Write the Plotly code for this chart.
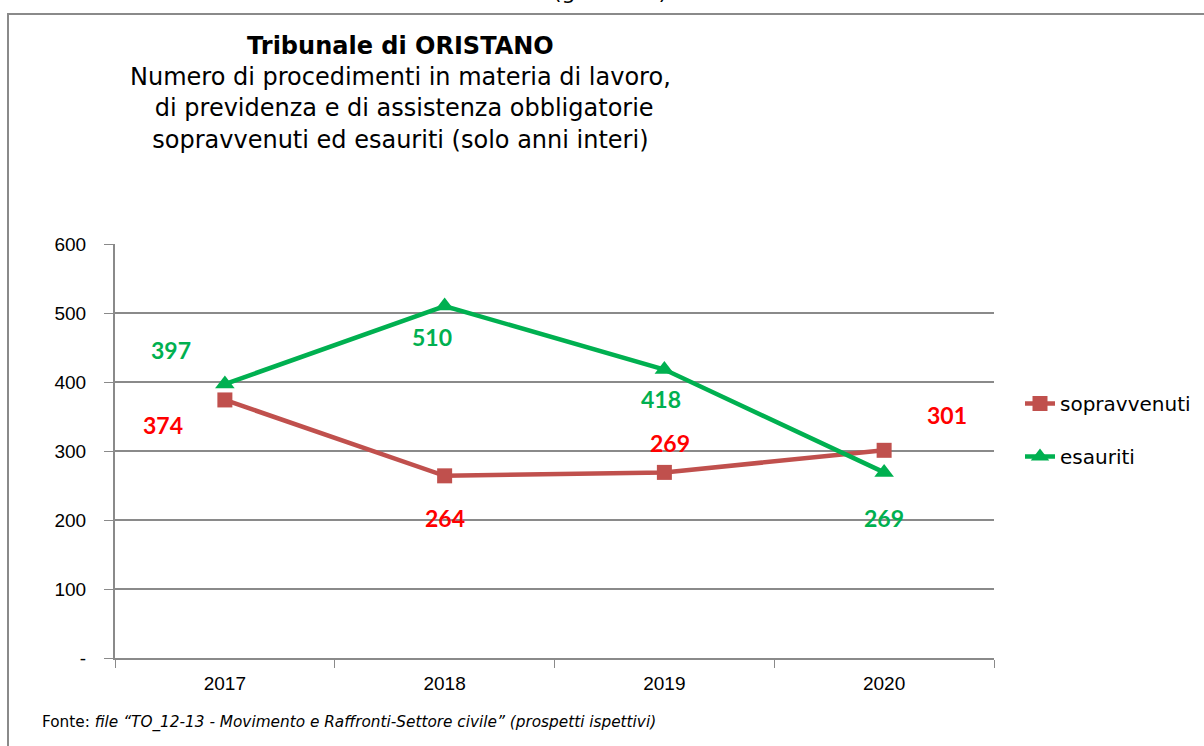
import plotly.graph_objects as go

years = ["2017", "2018", "2019", "2020"]
sopravvenuti = [374, 264, 269, 301]
esauriti = [397, 510, 418, 269]
y_ticks = [0, 100, 200, 300, 400, 500, 600]
y_ticklabels = ["-", "100", "200", "300", "400", "500", "600"]

# label offsets (pixels) - style only
sop_shift = [(-62, -25), (0, -42), (6, 29), (63, 35)]
esa_shift = [(-54, 34), (-13, -31), (-3, -29), (0, -46)]

RED = "#C0504D"
GREEN = "#00B050"

W, H = 1204, 746
L, R, T, B = 115, 210, 244, 88
pw, ph = W - L - R, H - T - B

def px_x(px):
    return (px - L) / pw

def px_y(py):
    return (H - B - py) / ph

fig = go.Figure()
fig.add_trace(go.Scatter(
    x=years, y=sopravvenuti, name="sopravvenuti", mode="lines+markers",
    line=dict(color=RED, width=4.5), marker=dict(symbol="square", size=15, color=RED),
    legendgroup="a"))
fig.add_trace(go.Scatter(
    x=years, y=esauriti, name="esauriti", mode="lines+markers",
    line=dict(color=GREEN, width=4.5), marker=dict(symbol="triangle-up", size=17, color=GREEN),
    legendgroup="b"))

annotations = []
for i, (v, (dx, dy)) in enumerate(zip(sopravvenuti, sop_shift)):
    annotations.append(dict(x=i, y=v, xref="x", yref="y", text="<b>%d</b>" % v, showarrow=False,
                            xshift=dx, yshift=dy,
                            font=dict(family="Lato", size=23, color="#FF0000")))
for i, (v, (dx, dy)) in enumerate(zip(esauriti, esa_shift)):
    annotations.append(dict(x=i, y=v, xref="x", yref="y", text="<b>%d</b>" % v, showarrow=False,
                            xshift=dx, yshift=dy,
                            font=dict(family="Lato", size=23, color=GREEN)))

annotations.append(dict(
    x=px_x(400), y=px_y(30), xref="paper", yref="paper", xanchor="center", yanchor="top",
    showarrow=False, align="center",
    text="<b>Tribunale di ORISTANO</b><br>Numero di procedimenti in materia di lavoro,<br>"
         " di previdenza e di assistenza obbligatorie<br>sopravvenuti ed esauriti (solo anni interi)",
    font=dict(family="DejaVu Sans", size=24, color="black")))
annotations.append(dict(
    x=px_x(610), y=px_y(6), xref="paper", yref="paper", xanchor="center", yanchor="bottom",
    showarrow=False, text="(grafico 8)",
    font=dict(family="DejaVu Sans", size=22, color="black")))
annotations.append(dict(
    x=px_x(40), y=px_y(722), xref="paper", yref="paper", xanchor="left", yanchor="middle",
    showarrow=False,
    text="Fonte: <i>file “TO_12-13 - Movimento e Raffronti-Settore civile” (prospetti ispettivi)</i>",
    font=dict(family="DejaVu Sans", size=15.3, color="black")))

shapes = [dict(type="rect", xref="paper", yref="paper",
               x0=px_x(8), x1=px_x(1260), y0=px_y(800), y1=px_y(14),
               line=dict(color="#8a8a8a", width=2), fillcolor="rgba(0,0,0,0)", layer="below")]

fig.update_layout(
    width=W, height=H, margin=dict(l=L, r=R, t=T, b=B, autoexpand=False),
    paper_bgcolor="white", plot_bgcolor="white",
    showlegend=True,
    legend=dict(x=px_x(1020), y=px_y(384), xanchor="left", yanchor="top",
                font=dict(family="DejaVu Sans", size=20, color="black"),
                tracegroupgap=24, traceorder="grouped", bgcolor="rgba(0,0,0,0)"),
    annotations=annotations, shapes=shapes,
    xaxis=dict(type="category", range=[-0.5, 3.5], showgrid=False,
               showline=True, linecolor="#8a8a8a", linewidth=2,
               ticks="outside", tickson="boundaries", ticklen=8, tickcolor="#8a8a8a",
               ticklabelstandoff=7,
               tickfont=dict(family="Liberation Sans", size=19, color="black")),
    yaxis=dict(range=[0, 600], tickvals=y_ticks, ticktext=y_ticklabels,
               showgrid=True, gridcolor="#8a8a8a", gridwidth=1.5,
               showline=True, linecolor="#8a8a8a", linewidth=2, zeroline=False,
               ticks="outside", ticklen=9, tickcolor="#8a8a8a",
               ticklabelstandoff=14,
               tickfont=dict(family="Liberation Sans", size=19, color="black")),
)

fig.write_html("out.html", config={"displayModeBar": False},
               post_script="document.body.style.margin='0';document.body.style.overflow='hidden';")
